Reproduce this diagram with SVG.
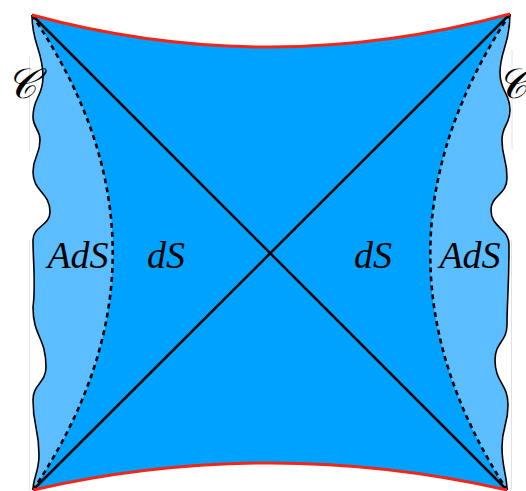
<svg xmlns="http://www.w3.org/2000/svg" width="526" height="491" viewBox="0 0 526 491">
<style>
.ads{fill:#5CBEFF;stroke:none}
.ds{fill:#00A2FF;stroke:none}
.wavy{fill:none;stroke:#000;stroke-width:1.6;stroke-linejoin:round}
.dash{fill:none;stroke:#000;stroke-width:2.6;stroke-dasharray:5 4}
.diag{stroke:#000;stroke-width:2.5;fill:none}
.red{fill:none;stroke:#F0261A;stroke-width:3}
.faint{stroke:#E2E2E2;stroke-width:1}
.lbl{font-family:"Liberation Serif","Times New Roman",serif;font-style:italic;font-size:38px;fill:#000;text-anchor:middle}
.cal{font-family:"DejaVu Serif","Liberation Serif",serif;font-style:italic;font-size:42px;fill:#000;text-anchor:middle}
</style>
<g id="faint-lines">
<line class="faint" x1="29.5" y1="56" x2="29.5" y2="152"/>
<line class="faint" x1="29.5" y1="240" x2="29.5" y2="490"/>
<line class="faint" x1="512" y1="50" x2="512" y2="150"/>
<line class="faint" x1="511.5" y1="240" x2="511.5" y2="490"/>
</g>
<g id="ads-left">
<path class="ads" d="M32,15 C32,45 43,50 43,77 C43,97 33,97 33,117 C33,128 40,129 40,140 C40,156 33,156 33,172 C33,192 50,192 50,212 C50,226 33,226 33,240 C33,262 36,285 33,307 C33,337 46,337 46,367 C46,383 33,384 33,400 C33,428 39,427 39,455 C39,472 33,478 33,490 Q193,252 32,15 Z"/>
</g>
<g id="ads-right">
<path class="ads" d="M510,14 C510,45 500,50 500,73 C500,92 510,92 510,110 C510,125 502,125 502,140 C502,158 507,158 507,178 C507,195 491,195 491,210 C491,228 509,228 509,245 C509,290 507,300 507,325 C507,342 495,342 495,360 C495,383 508,383 508,405 C508,426 502,426 502,447 C502,468 507,475 507,490 Q352,252 510,14 Z"/>
</g>
<g id="ds-region">
<path class="ds" d="M32,15 Q270,79.5 510,14 Q352,252 507,490 Q270,436 33,490 Q193,252 32,15 Z"/>
</g>
<g id="connectors">
<path class="wavy" d="M32,15 C32,45 43,50 43,77 C43,97 33,97 33,117 C33,128 40,129 40,140 C40,156 33,156 33,172 C33,192 50,192 50,212 C50,226 33,226 33,240 C33,262 36,285 33,307 C33,337 46,337 46,367 C46,383 33,384 33,400 C33,428 39,427 39,455 C39,472 33,478 33,490"/>
<path class="wavy" d="M510,14 C510,45 500,50 500,73 C500,92 510,92 510,110 C510,125 502,125 502,140 C502,158 507,158 507,178 C507,195 491,195 491,210 C491,228 509,228 509,245 C509,290 507,300 507,325 C507,342 495,342 495,360 C495,383 508,383 508,405 C508,426 502,426 502,447 C502,468 507,475 507,490"/>
<path class="dash" d="M32,15 Q193,252 33,490"/>
<path class="dash" d="M510,14 Q352,252 507,490"/>
<line class="diag" x1="32" y1="15" x2="507" y2="490"/>
<line class="diag" x1="510" y1="14" x2="33" y2="490"/>
<path class="red" d="M32,15 Q270,79.5 510,14"/>
<path class="red" d="M33,490 Q270,436 507,490"/>
</g>
<g id="labels">
<text class="lbl" x="78" y="268">AdS</text>
<text class="lbl" x="166" y="268">dS</text>
<text class="lbl" x="373" y="268">dS</text>
<text class="lbl" x="470" y="268">AdS</text>
<text class="cal" x="21" y="98">𝒞</text>
<text class="cal" x="512" y="98">𝒞</text>
</g>
</svg>
